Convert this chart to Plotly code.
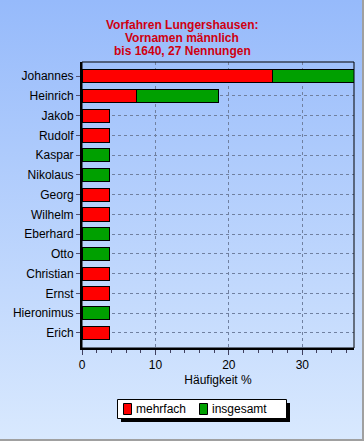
import base64
import plotly.graph_objects as go

names = ["Johannes", "Heinrich", "Jakob", "Rudolf", "Kaspar", "Nikolaus", "Georg",
         "Wilhelm", "Eberhard", "Otto", "Christian", "Ernst", "Hieronimus", "Erich"]
mehrfach = [25.93, 7.41, 3.70, 3.70, None, None, 3.70, 3.70, None, None, 3.70, 3.70, None, 3.70]
insgesamt = [11.11, 11.11, None, None, 3.70, 3.70, None, None, 3.70, 3.70, None, None, 3.70, None]
x_ticks = [0, 10, 20, 30]
series_names = ["mehrfach", "insgesamt"]
series_colors = ["#ff0000", "#00a000"]
title_lines = ["Vorfahren Lungershausen:", "Vornamen männlich", "bis 1640, 27 Nennungen"]

W, H = 364, 441
L, R, T, B = 82, 10, 62, 93
pw, ph = W - L - R, H - T - B

def px_x(px):
    return (px - L) / pw

def px_y(py):
    return (H - B - py) / ph

FONT = "Liberation Sans, Arial, sans-serif"

fig = go.Figure()
for vals, nm, col in zip([mehrfach, insgesamt], series_names, series_colors):
    fig.add_trace(go.Bar(y=names, x=vals, orientation="h", name=nm, showlegend=False,
                         marker=dict(color=col, line=dict(color="#000000", width=1))))

svg = ('<svg xmlns="http://www.w3.org/2000/svg" width="364" height="441" preserveAspectRatio="none">'
       '<defs><linearGradient id="g" x1="0" y1="0" x2="0" y2="1">'
       '<stop offset="0" stop-color="#96bafb"/><stop offset="1" stop-color="#d9e9fe"/>'
       '</linearGradient></defs><rect width="364" height="441" fill="url(#g)"/></svg>')
uri = "data:image/svg+xml;base64," + base64.b64encode(svg.encode()).decode()

shapes = [
    dict(type="rect", xref="paper", yref="paper", x0=0, x1=1, y0=0, y1=1,
         line=dict(color="#000000", width=1), fillcolor="rgba(0,0,0,0)", layer="above"),
    # legend shadow + box
    dict(type="rect", xref="paper", yref="paper", x0=px_x(121), x1=px_x(290),
         y0=px_y(422), y1=px_y(403), line=dict(width=0), fillcolor="#000000", layer="above"),
    dict(type="rect", xref="paper", yref="paper", x0=px_x(117.5), x1=px_x(286.5),
         y0=px_y(418.5), y1=px_y(399.5), line=dict(color="#000000", width=1),
         fillcolor="#ffffff", layer="above"),
    # window frame edges
    dict(type="line", xref="paper", yref="paper", x0=px_x(363), x1=px_x(363),
         y0=px_y(0), y1=px_y(441), line=dict(color="#a0a0a0", width=2)),
    dict(type="line", xref="paper", yref="paper", x0=px_x(0), x1=px_x(364),
         y0=px_y(440), y1=px_y(440), line=dict(color="#a0a0a0", width=2)),
]
annotations = []
leg_sym_x = [123, 199]
leg_txt_x = [135, 211]
for nm, col, sx, tx in zip(series_names, series_colors, leg_sym_x, leg_txt_x):
    shapes.append(dict(type="rect", xref="paper", yref="paper", x0=px_x(sx + 0.5), x1=px_x(sx + 8.5),
                       y0=px_y(414.5), y1=px_y(403.5), line=dict(color="#000000", width=1),
                       fillcolor=col, layer="above"))
    annotations.append(dict(text=nm, xref="paper", yref="paper", x=px_x(tx - 1), y=px_y(409),
                            xanchor="left", yanchor="middle", showarrow=False,
                            font=dict(family=FONT, size=12, color="#000000")))

for i, line in enumerate(title_lines):
    annotations.append(dict(text="<b>" + line + "</b>", xref="paper", yref="paper",
                            x=px_x(W / 2), y=px_y(25 + 13 * i), xanchor="center", yanchor="middle",
                            showarrow=False, font=dict(family=FONT, size=12, color="#d00010")))

fig.update_layout(
    width=W, height=H,
    margin=dict(l=L, r=R, t=T, b=B),
    paper_bgcolor="#d9e9fe",
    plot_bgcolor="rgba(0,0,0,0)",
    barmode="stack",
    bargap=0.32,
    showlegend=False,
    font=dict(family=FONT, size=12, color="#000000"),
    images=[dict(source=uri, xref="paper", yref="paper", x=px_x(0), y=px_y(0),
                 sizex=W / pw, sizey=H / ph, xanchor="left", yanchor="top",
                 sizing="stretch", layer="below")],
    xaxis=dict(range=[0, 37.04], tickvals=x_ticks, showgrid=True, automargin=False,
               gridcolor="#7080a0", griddash="3px,3px", gridwidth=1,
               zeroline=False, showline=True, linecolor="#000000", linewidth=2,
               ticks="outside", ticklen=5, tickcolor="#404060",
               minor=dict(dtick=2, ticks="outside", ticklen=3, tickcolor="#404060", showgrid=False),
               title=dict(text="Häufigkeit %", font=dict(size=12), standoff=4),
               tickfont=dict(size=12)),
    yaxis=dict(categoryorder="array", categoryarray=names, range=[13.76, -0.72],
               showgrid=True, gridcolor="#7080a0", griddash="3px,3px", gridwidth=1,
               automargin=False,
               zeroline=False, showline=True, linecolor="#000000", linewidth=2,
               ticks="outside", ticklen=4, tickcolor="#505070",
               tickfont=dict(size=12)),
    shapes=shapes,
    annotations=annotations,
)

fig.write_html("out.html", config={"displayModeBar": False},
               post_script="document.body.style.margin='0';document.body.style.overflow='hidden';")
